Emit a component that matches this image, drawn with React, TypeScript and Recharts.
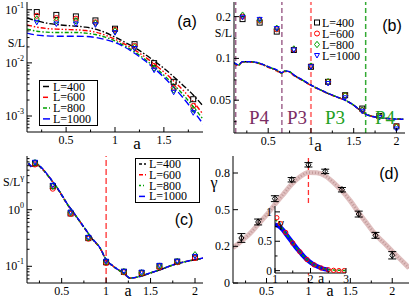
import React from "react";
import {
  ComposedChart, Line, Scatter, XAxis, YAxis, ReferenceLine, ErrorBar, Legend,
} from "recharts";

const SERIF = "'Liberation Serif', 'Times New Roman', serif";
const SANS = "'Liberation Sans', Arial, sans-serif";

const SIZES = ["L=400", "L=600", "L=800", "L=1000"];
const COLORS = ["#000000", "#ff0000", "#00a000", "#0000ff"];
const MARKS = ["square", "circle", "diamond", "triangle"];

// ---------- panel (a)
const A_PTS_X = [0.2, 0.4, 0.6, 0.8, 1.0, 1.2, 1.4, 1.6, 1.8];
const A_PTS_400 = [0.0905, 0.08, 0.075, 0.063, 0.044, 0.0225, 0.0099, 0.0044, 0.00207];
const A_PTS_600 = [0.077, 0.07, 0.068, 0.058, 0.042, 0.0209, 0.0088, 0.0034, 0.00155];
const A_PTS_800 = [0.067, 0.062, 0.062, 0.056, 0.04, 0.0198, 0.008, 0.0031, 0.00134];
const A_PTS_1000 = [0.058, 0.054, 0.054, 0.052, 0.037, 0.0186, 0.0073, 0.0028, 0.00115];
const A_CURVE_X = [0.1, 0.2, 0.3, 0.4, 0.5, 0.6, 0.7, 0.8, 0.9, 1.0, 1.1, 1.2, 1.3, 1.4, 1.5, 1.6, 1.7, 1.8, 1.9];
const A_CURVE_400 = [0.0697, 0.0619, 0.0561, 0.0528, 0.0506, 0.0492, 0.0471, 0.0432, 0.0373, 0.0305, 0.0245, 0.0194, 0.0148, 0.0109, 0.0079, 0.0055, 0.00373, 0.00249, 0.00155];
const A_CURVE_600 = [0.0521, 0.0471, 0.0444, 0.0432, 0.0425, 0.042, 0.0407, 0.0379, 0.0333, 0.028, 0.0225, 0.0176, 0.0132, 0.00957, 0.00676, 0.00457, 0.00301, 0.00186, 0.00108];
const A_CURVE_800 = [0.0432, 0.0395, 0.0379, 0.0373, 0.0373, 0.0373, 0.0363, 0.0342, 0.0305, 0.026, 0.0209, 0.0161, 0.0119, 0.0085, 0.00586, 0.0039, 0.00249, 0.0015, 0.00087];
const A_CURVE_1000 = [0.0363, 0.0333, 0.0323, 0.0318, 0.0318, 0.0318, 0.0314, 0.0301, 0.0275, 0.0242, 0.0198, 0.0152, 0.0112, 0.00794, 0.00537, 0.00348, 0.00216, 0.00126, 0.00071];
const A_XMAJ = [0.5, 1, 1.5];
const A_XTICKS = [0.25, 0.5, 0.75, 1, 1.25, 1.5, 1.75];
const A_YMAJ = [0.001, 0.01, 0.1];
const A_YTICKS = [6e-4, 7e-4, 8e-4, 9e-4, 0.001, 0.002, 0.003, 0.004, 0.005, 0.006, 0.007, 0.008, 0.009,
  0.01, 0.02, 0.03, 0.04, 0.05, 0.06, 0.07, 0.08, 0.09, 0.1];

// ---------- panel (b)
const B_PTS_X = [0.2, 0.4, 0.6, 0.8, 1.0, 1.2, 1.4, 1.6, 1.8, 2.0];
const B_PTS_400 = [0.192, 0.181, 0.156, 0.115, 0.087, 0.0678, 0.0543, 0.0435, 0.0385, 0.0324];
const B_PTS_600 = [0.2, 0.187, 0.162, 0.116, 0.088, 0.0678, 0.054, 0.0424, 0.038, 0.0324];
const B_PTS_800 = [0.205, 0.189, 0.165, 0.117, 0.088, 0.068, 0.054, 0.0424, 0.0382, 0.032];
const B_PTS_1000 = [0.198, 0.191, 0.164, 0.115, 0.087, 0.066, 0.052, 0.0416, 0.0375, 0.031];
const B_CURVE_X = [0.1, 0.15, 0.2, 0.3, 0.4, 0.5, 0.6, 0.66, 0.69, 0.75, 0.8, 0.9, 1.0, 1.1, 1.2, 1.3, 1.4, 1.5, 1.6, 1.67, 1.75, 1.9, 2.08];
const B_CURVE_400 = [0.0929, 0.0895, 0.0945, 0.0945, 0.092, 0.087, 0.0823, 0.0787, 0.081, 0.08, 0.0758, 0.0697, 0.0641, 0.0597, 0.0559, 0.0528, 0.05, 0.046, 0.0412, 0.039, 0.0379, 0.0369, 0.0365];
const B_CURVE_600 = [0.0925, 0.0885, 0.0942, 0.094, 0.0915, 0.0862, 0.0812, 0.0778, 0.0805, 0.0795, 0.0752, 0.0693, 0.0638, 0.0595, 0.0557, 0.0527, 0.0499, 0.0459, 0.041, 0.0389, 0.0378, 0.0368, 0.0364];
const B_CURVE_800 = [0.093, 0.0893, 0.0946, 0.0946, 0.0921, 0.0869, 0.0821, 0.0785, 0.0811, 0.0801, 0.0757, 0.0698, 0.0642, 0.0598, 0.056, 0.0529, 0.0501, 0.0461, 0.0413, 0.0391, 0.038, 0.037, 0.0366];
const B_CURVE_1000 = [0.0932, 0.0898, 0.0948, 0.0947, 0.0923, 0.0872, 0.0826, 0.079, 0.0814, 0.0803, 0.076, 0.07, 0.0643, 0.0598, 0.056, 0.0529, 0.05, 0.046, 0.0411, 0.0388, 0.0378, 0.0368, 0.0364];
const B_XMAJ = [0.5, 1, 1.5, 2];
const B_XTICKS = [0.25, 0.5, 0.75, 1, 1.25, 1.5, 1.75, 2];
const B_YMAJ = [0.05, 0.1, 0.2];
const B_YTICKS = [0.035, 0.05, 0.07, 0.1, 0.14, 0.2];
const B_PHASE_X = [0.12, 0.66, 1.0, 1.64];
const B_PHASE_LABELS = ["P4", "P3", "P3", "P4"];

// ---------- panel (c)
const C_PTS_X = [0.2, 0.4, 0.6, 0.8, 1.0, 1.2, 1.4, 1.6, 1.8, 2.0];
const C_PTS_400 = [6.6, 2.6, 0.86, 0.315, 0.118, 0.08, 0.076, 0.1, 0.121, 0.143];
const C_PTS_600 = [6.3, 2.35, 0.84, 0.307, 0.114, 0.0785, 0.075, 0.096, 0.118, 0.14];
const C_PTS_800 = [6.8, 2.6, 0.9, 0.32, 0.121, 0.081, 0.077, 0.101, 0.122, 0.16];
const C_PTS_1000 = [6.9, 2.7, 0.91, 0.325, 0.123, 0.0817, 0.079, 0.104, 0.123, 0.15];
const C_CURVE_X = [0.127, 0.165, 0.22, 0.277, 0.37, 0.465, 0.558, 0.652, 0.745, 0.839, 0.933, 1.0, 1.082, 1.195, 1.27, 1.382, 1.494, 1.607, 1.757, 1.906, 2.06, 2.09];
const C_CURVE_400 = [6.5, 5.7, 6.2, 5.3, 3.55, 2.2, 1.28, 0.8, 0.5, 0.31, 0.207, 0.13, 0.099, 0.0755, 0.0618, 0.066, 0.0755, 0.0865, 0.106, 0.122, 0.136, 0.139];
const C_CURVE_600 = [6.6, 5.8, 6.3, 5.4, 3.6, 2.24, 1.3, 0.81, 0.505, 0.313, 0.209, 0.131, 0.1, 0.076, 0.062, 0.0663, 0.076, 0.0868, 0.1065, 0.1222, 0.1368, 0.1395];
const C_CURVE_800 = [6.7, 5.85, 6.4, 5.45, 3.62, 2.25, 1.31, 0.815, 0.508, 0.315, 0.21, 0.132, 0.1, 0.0762, 0.0621, 0.0665, 0.0762, 0.087, 0.1067, 0.1225, 0.137, 0.14];
const C_CURVE_1000 = [6.68, 5.85, 6.42, 5.46, 3.63, 2.26, 1.31, 0.816, 0.509, 0.316, 0.21, 0.132, 0.1, 0.0762, 0.0621, 0.0665, 0.0762, 0.0871, 0.1067, 0.1225, 0.137, 0.14];
const C_YMAJ = [0.1, 1];
const C_YTICKS = [0.06, 0.07, 0.08, 0.09, 0.1, 0.2, 0.3, 0.4, 0.5, 0.6, 0.7, 0.8, 0.9, 1, 2, 3, 4, 5, 6, 7, 8];

// ---------- panel (d)
const D_PTS_X = [0.2, 0.4, 0.6, 0.8, 1.0, 1.2, 1.4, 1.6, 1.8, 2.0];
const D_PTS_GAMMA = [0.307, 0.416, 0.575, 0.704, 0.806, 0.761, 0.636, 0.47, 0.325, 0.189];
const D_PTS_ERR = [0.03, 0.02, 0.02, 0.015, 0.015, 0.015, 0.015, 0.02, 0.02, 0.025];
const D_CURVE_X = [0.1, 0.2, 0.3, 0.4, 0.5, 0.6, 0.7, 0.8, 0.9, 1.0, 1.1, 1.2, 1.3, 1.4, 1.5, 1.6, 1.7, 1.8, 1.9, 2.0, 2.1, 2.2];
const D_CURVE_GAMMA = [0.24, 0.286, 0.336, 0.4, 0.464, 0.536, 0.605, 0.673, 0.724, 0.753, 0.751, 0.731, 0.685, 0.628, 0.56, 0.479, 0.404, 0.331, 0.274, 0.217, 0.16, 0.103];
const D_YTICKS = [0, 0.25, 0.5, 0.75];
const D_YLABELS = ["0", "0.2", "0.5", "0.8"];

// inset of (d)
const IN_BLUE_X = [1.0, 1.1, 1.2, 1.3, 1.4, 1.5, 1.6, 1.7, 1.8, 1.9, 2.0, 2.1, 2.2, 2.3, 2.4, 2.5];
const IN_BLUE_Y = [0.78, 0.76, 0.71, 0.63, 0.55, 0.47, 0.39, 0.32, 0.25, 0.19, 0.14, 0.1, 0.07, 0.045, 0.025, 0.012];
const IN_RED_X = [1.05, 1.15, 1.3, 1.5, 1.7, 1.9, 2.1, 2.3, 2.5, 2.65, 2.8, 2.95];
const IN_RED_Y = [0.9, 0.8, 0.65, 0.47, 0.32, 0.19, 0.1, 0.045, 0.015, 0.005, 0.0, 0.0];
const IN_GREEN_X = [1.0, 1.1, 1.2, 1.3, 1.5, 1.7, 1.9, 2.1, 2.3, 2.5, 2.7, 2.9, 3.0];
const IN_GREEN_Y = [0.88, 0.8, 0.72, 0.64, 0.47, 0.32, 0.19, 0.1, 0.045, 0.018, 0.008, 0.004, 0.003];

const pts = (xs: number[], ys: number[]) => xs.map((x, i) => ({ x, y: ys[i] }));

const AX = { stroke: "#000", strokeWidth: 1 };
const fmtNum = (v: number) => String(v);
const pow10 = (v: number) => (
  <>
    <tspan>10</tspan>
    <tspan dy={-5} fontSize={8}>{String(Math.round(Math.log10(v)))}</tspan>
  </>
);

type Side = "bottom" | "left" | "top" | "right";
function makeTick(side: Side, majors: number[], fmt?: (v: number) => React.ReactNode, fs = 12, gap = 8) {
  return (p: any) => {
    const v = Number(p.payload?.value);
    const major = majors.some((m) => Math.abs(m - v) < 1e-9);
    const len = major ? 5 : 2.5;
    const { x, y } = p;
    let l = [x, y, x, y - len];
    if (side === "top") l = [x, y, x, y + len];
    else if (side === "left") l = [x, y, x + len, y];
    else if (side === "right") l = [x, y, x - len, y];
    return (
      <g>
        <line x1={l[0]} y1={l[1]} x2={l[2]} y2={l[3]} stroke="#000" strokeWidth={1} />
        {major && fmt && side === "bottom" && (
          <text x={x} y={y + gap} textAnchor="middle" dominantBaseline="central" fontFamily={SERIF} fontSize={fs} fill="#000">{fmt(v)}</text>
        )}
        {major && fmt && side === "left" && (
          <text x={x - 3} y={y} textAnchor="end" dominantBaseline="central" fontFamily={SERIF} fontSize={fs} fill="#000">{fmt(v)}</text>
        )}
      </g>
    );
  };
}

function frame(o: {
  xd: [number, number]; yd: [number, number]; xt: number[]; yt: number[];
  xm: number[]; ym: number[]; xf: (v: number) => React.ReactNode; yf: (v: number) => React.ReactNode;
  xh: number; yw: number; log?: boolean; fs?: number; gap?: number;
}) {
  const c = { type: "number" as const, allowDataOverflow: true, interval: 0 as const, tickSize: 0, tickMargin: 0, tickLine: false, axisLine: AX };
  const sc = o.log ? "log" : "linear";
  return [
    <XAxis key="xb" dataKey="x" domain={o.xd} ticks={o.xt} height={o.xh} tick={makeTick("bottom", o.xm, o.xf, o.fs, o.gap)} {...c} />,
    <XAxis key="xt" xAxisId="top" orientation="top" domain={o.xd} ticks={o.xt} height={0} tick={makeTick("top", o.xm)} {...c} />,
    <YAxis key="yl" dataKey="y" domain={o.yd} ticks={o.yt} width={o.yw} scale={sc} tick={makeTick("left", o.ym, o.yf, o.fs)} {...c} />,
    <YAxis key="yr" yAxisId="right" orientation="right" domain={o.yd} ticks={o.yt} width={0} scale={sc} tick={makeTick("right", o.ym)} {...c} />,
  ];
}

function Mark({ cx, cy, kind, color }: any) {
  if (cx == null || cy == null) return null;
  const s = 2.5;
  if (kind === "square") return <rect x={cx - s} y={cy - s} width={2 * s} height={2 * s} fill="none" stroke={color} strokeWidth={1} />;
  if (kind === "circle") return <circle cx={cx} cy={cy} r={s} fill="none" stroke={color} strokeWidth={1} />;
  if (kind === "diamond") return <path d={`M${cx},${cy - s - 0.7}L${cx + s},${cy}L${cx},${cy + s + 0.7}L${cx - s},${cy}Z`} fill="none" stroke={color} strokeWidth={1} />;
  return <path d={`M${cx - s},${cy - s + 0.5}L${cx + s},${cy - s + 0.5}L${cx},${cy + s}Z`} fill="none" stroke={color} strokeWidth={1} />;
}

const A_DASH = ["6 2 1.5 2", "5 2 1.5 2 1.5 2", "4 2 1.5 2", "7 3"];
const B_DASH = ["4 2", "4 2 1 2", "3 2", "5 2"];

function LineLegend({ dashes, w, h, rows }: { dashes: string[]; w: number; h: number; rows: number[] }) {
  return (
    <svg width={w} height={h} style={{ display: "block" }}>
      <rect x={0.5} y={0.5} width={w - 1} height={h - 1} fill="#fff" stroke="#000" />
      {SIZES.map((s, i) => (
        <g key={s}>
          <line x1={4} x2={11} y1={rows[i]} y2={rows[i]} stroke={COLORS[i]} strokeWidth={1.5} strokeDasharray={dashes[i]} />
          <text x={14} y={rows[i]} dominantBaseline="central" fontFamily={SERIF} fontSize={12} fill="#000">{s}</text>
        </g>
      ))}
    </svg>
  );
}

function MarkLegend() {
  return (
    <svg width={62} height={46} style={{ display: "block" }}>
      {SIZES.map((s, i) => (
        <g key={s}>
          <Mark cx={4} cy={6.5 + i * 11} kind={MARKS[i]} color={COLORS[i]} />
          <text x={9} y={6.5 + i * 11} dominantBaseline="central" fontFamily={SERIF} fontSize={12} fill="#000">{s}</text>
        </g>
      ))}
    </svg>
  );
}

function curves(sets: number[][], xs: number[], dashes: string[]) {
  return sets.map((ys, i) => (
    <Line key={`l${i}`} data={pts(xs, ys)} dataKey="y" type="monotone" stroke={COLORS[i]} strokeWidth={1.4}
      strokeDasharray={dashes[i]} dot={false} isAnimationActive={false} />
  ));
}
function markers(sets: number[][], xs: number[]) {
  return sets.map((ys, i) => (
    <Scatter key={`s${i}`} data={pts(xs, ys)} isAnimationActive={false}
      shape={(p: any) => <Mark cx={p.cx} cy={p.cy} kind={MARKS[i]} color={COLORS[i]} />} />
  ));
}

function PanelA() {
  return (
    <ComposedChart width={207} height={150} margin={{ top: 2, right: 4, bottom: 0, left: 0 }}>
      {frame({ xd: [0.1, 1.9], yd: [5e-4, 0.14], xt: A_XTICKS, yt: A_YTICKS, xm: A_XMAJ, ym: A_YMAJ, xf: fmtNum, yf: pow10, xh: 18, yw: 27, log: true })}
      {curves([A_CURVE_400, A_CURVE_600, A_CURVE_800, A_CURVE_1000], A_CURVE_X, A_DASH)}
      {markers([A_PTS_400, A_PTS_600, A_PTS_800, A_PTS_1000], A_PTS_X)}
      <Legend layout="vertical" align="center" verticalAlign="middle" wrapperStyle={{ left: 39, top: 80, width: 59 }}
        content={() => <LineLegend dashes={A_DASH} w={59} h={46} rows={[6.5, 17.3, 28.1, 38.9]} />} />
    </ComposedChart>
  );
}

function PanelB() {
  const phaseColors = ["#a0668f", "#a0668f", "#ff8080", "#33aa33"];
  return (
    <ComposedChart width={208} height={150} margin={{ top: 2, right: 10, bottom: 0, left: 0 }}>
      {frame({ xd: [0.1, 2.1], yd: [0.029, 0.255], xt: B_XTICKS, yt: B_YTICKS, xm: B_XMAJ, ym: B_YMAJ, xf: fmtNum, yf: fmtNum, xh: 17, yw: 27, log: true })}
      {B_PHASE_X.map((x, i) => (
        <ReferenceLine key={`r${i}`} x={x} stroke={phaseColors[i]} strokeWidth={i === 2 ? 2 : 1.5} strokeDasharray="5 3" />
      ))}
      {curves([B_CURVE_400, B_CURVE_600, B_CURVE_800, B_CURVE_1000], B_CURVE_X, B_DASH)}
      {markers([B_PTS_400, B_PTS_600, B_PTS_800, B_PTS_1000], B_PTS_X)}
      <Legend layout="vertical" align="center" verticalAlign="middle" wrapperStyle={{ left: 106, top: 16, width: 62 }}
        content={() => <MarkLegend />} />
    </ComposedChart>
  );
}

function PanelC() {
  return (
    <ComposedChart width={207} height={149} margin={{ top: 6, right: 4, bottom: 0, left: 0 }}>
      {frame({ xd: [0.11, 2.09], yd: [0.0507, 8.9], xt: B_XTICKS, yt: C_YTICKS, xm: B_XMAJ, ym: C_YMAJ, xf: fmtNum, yf: pow10, xh: 16, yw: 27, log: true })}
      <ReferenceLine x={1} stroke="#ff3030" strokeWidth={1.3} strokeDasharray="6 3" />
      {curves([C_CURVE_400, C_CURVE_600, C_CURVE_800, C_CURVE_1000], C_CURVE_X, B_DASH)}
      {markers([C_PTS_400, C_PTS_600, C_PTS_800, C_PTS_1000], C_PTS_X)}
      <Legend layout="vertical" align="center" verticalAlign="middle" wrapperStyle={{ left: 135, top: 8, width: 65 }}
        content={() => <LineLegend dashes={["3 2", "4 2 1 2", "2 2 1 2", "6 2"]} w={65} h={45} rows={[6, 16.8, 27.6, 38.4]} />} />
    </ComposedChart>
  );
}

function PanelD() {
  const curve = pts(D_CURVE_X, D_CURVE_GAMMA);
  const dots = D_PTS_X.map((x, i) => ({ x, y: D_PTS_GAMMA[i], err: D_PTS_ERR[i] }));
  return (
    <ComposedChart width={208} height={149} margin={{ top: 6, right: 6, bottom: 0, left: 0 }}>
      {frame({ xd: [0.1, 2.2], yd: [0, 0.866], xt: B_XTICKS, yt: D_YTICKS, xm: B_XMAJ, ym: D_YTICKS, xf: fmtNum, yf: (v) => D_YLABELS[D_YTICKS.indexOf(v)], xh: 16, yw: 26 })}
      <ReferenceLine x={1} stroke="#ff3030" strokeWidth={1.3} strokeDasharray="5 3" />
      <Line data={curve} dataKey="y" type="monotone" stroke="#e0c0c0" strokeWidth={5} dot={false} isAnimationActive={false} />
      <Line data={curve} dataKey="y" type="monotone" stroke="#c29a9a" strokeWidth={2.5} strokeDasharray="1 2" dot={false} isAnimationActive={false} />
      <Scatter data={dots} isAnimationActive={false} shape={(p: any) => <Mark cx={p.cx} cy={p.cy} kind="diamond" color="#000" />}>
        <ErrorBar dataKey="err" direction="y" width={4} stroke="#000" strokeWidth={1} />
      </Scatter>
    </ComposedChart>
  );
}

function Inset() {
  return (
    <ComposedChart width={96} height={92} margin={{ top: 6, right: 5, bottom: 0, left: 0 }}>
      {frame({ xd: [1, 3], yd: [-0.04, 1.1], xt: [1, 1.5, 2, 2.5, 3], yt: [0, 0.25, 0.5, 0.75, 1], xm: [1, 2, 3], ym: [0, 0.5, 1], xf: fmtNum, yf: fmtNum, xh: 19, yw: 20, fs: 11.5, gap: 6 })}
      <Line data={pts(IN_BLUE_X, IN_BLUE_Y)} dataKey="y" type="monotone" stroke="#0000ff" strokeWidth={4.5} dot={false} isAnimationActive={false} />
      <Scatter data={pts(IN_RED_X, IN_RED_Y)} isAnimationActive={false} shape={(p: any) => <circle cx={p.cx} cy={p.cy} r={2.2} fill="none" stroke="#ff0000" />} />
      <Line data={pts(IN_GREEN_X, IN_GREEN_Y)} dataKey="y" type="monotone" stroke="#00a000" strokeWidth={1.5} strokeDasharray="3 2" dot={false} isAnimationActive={false} />
    </ComposedChart>
  );
}

const T = (p: any) => <text fontFamily={SERIF} dominantBaseline="central" textAnchor="middle" fill="#000" {...p} />;

export default function App() {
  return (
    <div style={{ position: "absolute", left: 0, top: 0, width: 415, height: 299, background: "#fff", overflow: "hidden" }}>
      <div style={{ position: "absolute", left: 0, top: 0 }}><PanelA /></div>
      <div style={{ position: "absolute", left: 207, top: 0 }}><PanelB /></div>
      <div style={{ position: "absolute", left: 0, top: 150 }}><PanelC /></div>
      <div style={{ position: "absolute", left: 207, top: 150 }}><PanelD /></div>
      <div style={{ position: "absolute", left: 275, top: 206, width: 71, height: 67, background: "#fff" }} />
      <div style={{ position: "absolute", left: 255, top: 200 }}><Inset /></div>
      <svg width={415} height={299} style={{ position: "absolute", left: 0, top: 0, pointerEvents: "none" }}>
        <T x={16.5} y={43} fontSize={12}>S/L</T>
        <T x={187} y={21} fontSize={16} fontFamily={SANS}>(a)</T>
        <T x={137} y={143} fontSize={17}>a</T>
        <T x={223.5} y={33} fontSize={12}>S/L</T>
        <T x={392} y={25} fontSize={16} fontFamily={SANS}>(b)</T>
        <T x={318} y={145} fontSize={17}>a</T>
        {B_PHASE_LABELS.map((s, i) => (
          <T key={i} x={[259, 297, 335, 385][i]} y={117} fontSize={19} fill={i < 2 ? "#7b2d63" : "#22a022"}>{s}</T>
        ))}
        <text x={3} y={182} fontFamily={SERIF} fontSize={12} dominantBaseline="central">S/L<tspan dy={-5} fontSize={9}>γ</tspan></text>
        <T x={184} y={219} fontSize={16} fontFamily={SANS}>(c)</T>
        <T x={128} y={290} fontSize={16}>a</T>
        <T x={214} y={182} fontSize={16}>γ</T>
        <T x={389} y={173} fontSize={16} fontFamily={SANS}>(d)</T>
        <T x={330} y={290} fontSize={16}>a</T>
        <T x={281} y={222} fontSize={13}>γ</T>
        <T x={321} y={278} fontSize={14}>a</T>
      </svg>
    </div>
  );
}
